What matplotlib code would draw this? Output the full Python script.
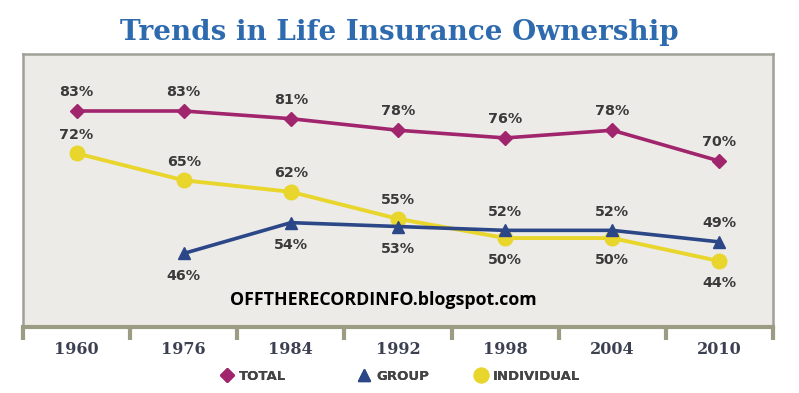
import matplotlib
matplotlib.use("Agg")
import matplotlib.pyplot as plt
from matplotlib.lines import Line2D

years = ["1960", "1976", "1984", "1992", "1998", "2004", "2010"]
total = [83, 83, 81, 78, 76, 78, 70]
group = [None, 46, 54, 53, 52, 52, 49]
individual = [72, 65, 62, 55, 50, 50, 44]
series_names = ["TOTAL", "GROUP", "INDIVIDUAL"]

# label placement: +1 above, -1 below
total_pos = [1, 1, 1, 1, 1, 1, 1]
group_pos = [0, -1, -1, -1, 1, 1, 1]
indiv_pos = [1, 1, 1, 1, -1, -1, -1]

c_total = "#A1256D"
c_group = "#2C4787"
c_indiv = "#E8D62C"
c_text = "#3A3A3A"

fig = plt.figure(figsize=(7.99, 3.93), dpi=100)
fig.patch.set_facecolor("white")
W, H = 799, 393
ax = fig.add_axes([23 / W, 1 - 327 / H, 750 / W, 273 / H])
ax.set_facecolor("#EDEBE8")

x = list(range(len(years)))
ax.plot(x, total, color=c_total, lw=2.6, marker="D", ms=7, zorder=3)
gx = [i for i, v in zip(x, group) if v is not None]
gy = [v for v in group if v is not None]
ax.plot(gx, gy, color=c_group, lw=2.6, marker="^", ms=8, zorder=3)
ax.plot(x, individual, color=c_indiv, lw=2.8, marker="o", ms=10.5, zorder=2)

def label(xs, ys, pos, up=13.5, down=-16):
    for xi, yi, p in zip(xs, ys, pos):
        if yi is None or p == 0:
            continue
        off = up if p > 0 else down
        ax.annotate(f"{yi}%", (xi, yi), xytext=(0, off), textcoords="offset points",
                    ha="center", va="center", fontsize=10.3, fontweight="bold",
                    color=c_text, family="DejaVu Sans")

label(x, total, total_pos)
label(x, group, group_pos)
label(x, individual, indiv_pos)

ax.set_xlim(-0.5, len(years) - 0.5)
ax.set_ylim(26.9, 97.8)
ax.set_yticks([])
ax.set_xticks(x)
ax.set_xticklabels(years, family="DejaVu Serif", fontweight="bold", fontsize=11.5,
                   color="#3C4152")
ax.tick_params(axis="x", length=0, pad=10)
ax.set_xticks([i - 0.5 for i in range(len(years) + 1)], minor=True)
ax.tick_params(axis="x", which="minor", length=9, width=3, color="#9C9B84", direction="out")

for side in ["left", "top", "right"]:
    ax.spines[side].set_color("#A0A098")
    ax.spines[side].set_linewidth(1.8)
ax.spines["bottom"].set_color("#9C9B84")
ax.spines["bottom"].set_linewidth(3)

fig.text(399 / W, 1 - 33 / H, "Trends in Life Insurance Ownership", ha="center", va="center",
         family="DejaVu Serif", fontweight="heavy", fontsize=20, color="#2E6BAE")

fig.text(383 / W, 1 - 300 / H, "OFFTHERECORDINFO.blogspot.com", ha="center", va="center",
         family="Open Sans", fontweight="bold", fontsize=12.8, color="black")

handles = [
    Line2D([], [], ls="none", marker="D", color=c_total, ms=7),
    Line2D([], [], ls="none", marker="^", color=c_group, ms=8),
    Line2D([], [], ls="none", marker="o", color=c_indiv, ms=10.5),
]
leg_x = [222, 359, 476]
for h, name, lx in zip(handles, series_names, leg_x):
    leg = fig.legend([h], [name], loc="center left",
                     bbox_to_anchor=(lx / W, 1 - 376 / H), frameon=False,
                     borderpad=0, borderaxespad=0,
                     handlelength=0.8, handletextpad=0.5,
                     prop={"family": "DejaVu Sans", "weight": "bold", "size": 9.5})
    for t in leg.get_texts():
        t.set_color("#444444")
    fig.add_artist(leg)

fig.savefig("out.png", dpi=100)
